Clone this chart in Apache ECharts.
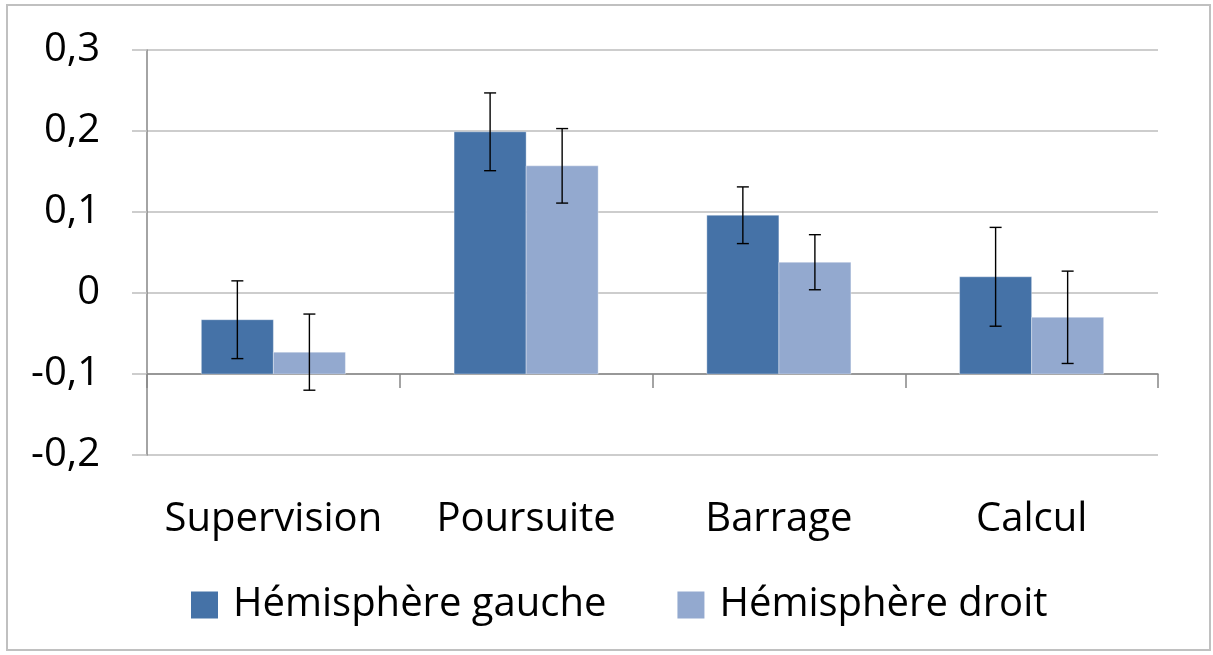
<!DOCTYPE html>
<html>
<head>
<meta charset="utf-8">
<script src="https://cdn.jsdelivr.net/npm/echarts@6/dist/echarts.min.js"></script>
<style>
  html, body { margin: 0; padding: 0; background: #fff; }
  #main { width: 1213px; height: 655px; }
</style>
</head>
<body>
<div id="main"></div>
<script>
// data
var categories = ['Supervision', 'Poursuite', 'Barrage', 'Calcul'];
var gauche = [-0.033, 0.199, 0.096, 0.020];
var gaucheErr = [0.048, 0.048, 0.035, 0.061];
var droit = [-0.073, 0.157, 0.038, -0.030];
var droitErr = [0.047, 0.046, 0.034, 0.057];
var baseValue = -0.1; // horizontal axis crosses here
var seriesNames = ['Hémisphère gauche', 'Hémisphère droit'];

var fontFam = '"Open Sans", "Noto Sans", sans-serif';

var myChart = echarts.init(document.getElementById('main'));

// draws one bar (from baseValue) plus its error bar
function makeRender(side) {
  return function (params, api) {
    var i = api.value(0);
    var v = api.value(1);
    var e = api.value(2);
    var top = api.coord([i, v]);
    var base = api.coord([i, baseValue]);
    var band = api.size([1, 0])[0];
    var w = band * 0.285;
    var x = side < 0 ? top[0] - w : top[0];
    var cx = x + w / 2;
    var hi = api.coord([i, v + e])[1];
    var lo = api.coord([i, v - e])[1];
    var cap = 6;
    var errStyle = { stroke: '#000', lineWidth: 1.4 };
    return {
      type: 'group',
      children: [
        {
          type: 'rect',
          shape: { x: x, y: Math.min(top[1], base[1]), width: w, height: Math.abs(base[1] - top[1]) },
          style: { fill: api.visual('color'), stroke: 'rgba(255,255,255,0.35)', lineWidth: 1 }
        },
        { type: 'line', shape: { x1: cx, y1: hi, x2: cx, y2: lo }, style: errStyle },
        { type: 'line', shape: { x1: cx - cap, y1: hi, x2: cx + cap, y2: hi }, style: errStyle },
        { type: 'line', shape: { x1: cx - cap, y1: lo, x2: cx + cap, y2: lo }, style: errStyle }
      ]
    };
  };
}

function toData(vals, errs) {
  return categories.map(function (c, i) { return [i, vals[i], errs[i]]; });
}

myChart.setOption({
  animation: false,
  backgroundColor: '#fff',
  graphic: [{
    type: 'rect',
    shape: { x: 7, y: 5, width: 1203, height: 645 },
    style: { fill: 'none', stroke: '#c0c0c0', lineWidth: 2 },
    silent: true
  }],
  grid: { left: 147, right: 55, top: 50, bottom: 200 },
  legend: {
    left: 186,
    top: 580,
    icon: 'rect',
    itemWidth: 27,
    itemHeight: 27,
    itemGap: 71,
    data: seriesNames,
    textStyle: { fontFamily: fontFam, fontSize: 40, color: '#000', padding: [0, 0, 0, 10] }
  },
  xAxis: [
    {
      // line and ticks at the crossing value -0.1
      type: 'category',
      data: categories,
      position: 'bottom',
      offset: -81,
      axisLine: { show: true, onZero: false, lineStyle: { color: '#868686', width: 1.5 } },
      axisTick: { show: true, length: 14, lineStyle: { color: '#868686', width: 1.5 } },
      axisLabel: { show: false },
      splitLine: { show: false }
    },
    {
      // labels only, under the plot
      type: 'category',
      data: categories,
      position: 'bottom',
      axisLine: { show: false },
      axisTick: { show: false },
      axisLabel: { interval: 0, margin: 45, fontFamily: fontFam, fontSize: 40, color: '#000' }
    }
  ],
  yAxis: {
    type: 'value',
    min: -0.2,
    max: 0.3,
    interval: 0.1,
    axisLine: { show: true, lineStyle: { color: '#868686', width: 1.5 } },
    axisTick: { show: true, length: 15, lineStyle: { color: '#bdbdbd', width: 1.5 } },
    axisLabel: {
      margin: 47,
      fontFamily: fontFam,
      fontSize: 40,
      color: '#000',
      formatter: function (val) {
        if (Math.abs(val) < 1e-9) return '0';
        return val.toFixed(1).replace('.', ',');
      }
    },
    splitLine: { lineStyle: { color: '#bdbdbd', width: 1.5 } }
  },
  series: [
    {
      name: seriesNames[0],
      type: 'custom',
      itemStyle: { color: '#4572A7' },
      encode: { x: 0, y: 1 },
      renderItem: makeRender(-1),
      data: toData(gauche, gaucheErr)
    },
    {
      name: seriesNames[1],
      type: 'custom',
      itemStyle: { color: '#93A9CF' },
      encode: { x: 0, y: 1 },
      renderItem: makeRender(1),
      data: toData(droit, droitErr)
    }
  ]
});
</script>
</body>
</html>
